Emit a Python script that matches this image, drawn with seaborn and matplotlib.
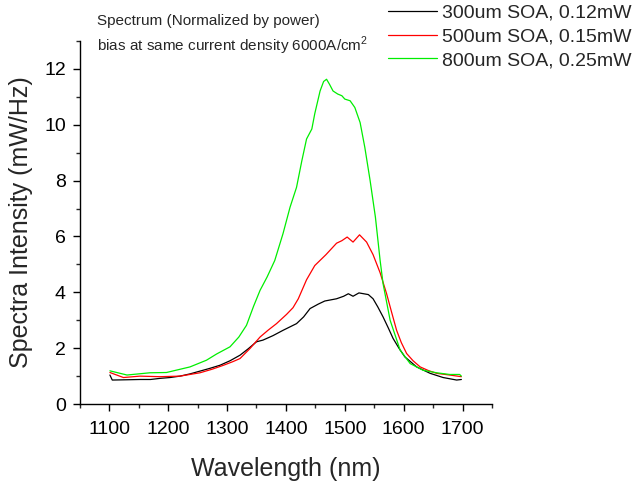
import matplotlib
matplotlib.use("Agg")
import matplotlib.pyplot as plt
import seaborn as sns
import pandas as pd
from matplotlib.ticker import MultipleLocator

# ---- data ----
wl_300 = [1101, 1105, 1130, 1152, 1170, 1186, 1203, 1220, 1237, 1254, 1271, 1288, 1305, 1322,
          1336, 1350, 1361, 1378, 1395, 1418, 1430, 1441, 1455, 1466, 1486, 1498, 1506, 1514,
          1524, 1540, 1548, 1556, 1565, 1574, 1582, 1592, 1602, 1622, 1645, 1667, 1690, 1698]
int_300 = [1.04, 0.86, 0.87, 0.88, 0.88, 0.92, 0.95, 1.00, 1.08, 1.18, 1.28, 1.39, 1.55, 1.75,
           1.98, 2.23, 2.29, 2.45, 2.64, 2.88, 3.12, 3.42, 3.58, 3.69, 3.77, 3.86, 3.95, 3.86,
           3.98, 3.92, 3.77, 3.48, 3.12, 2.72, 2.35, 2.00, 1.69, 1.33, 1.10, 0.95, 0.86, 0.88]

wl_500 = [1101, 1124, 1152, 1186, 1220, 1254, 1275, 1294, 1310, 1322, 1339, 1356, 1370, 1384,
          1401, 1412, 1421, 1435, 1449, 1468, 1486, 1495, 1504, 1514, 1525, 1537, 1548, 1560,
          1571, 1580, 1588, 1596, 1605, 1616, 1628, 1642, 1656, 1678, 1698]
int_500 = [1.13, 0.95, 1.00, 0.98, 1.00, 1.12, 1.25, 1.39, 1.52, 1.63, 1.99, 2.40, 2.65, 2.88,
           3.21, 3.45, 3.77, 4.45, 4.96, 5.35, 5.76, 5.85, 5.98, 5.80, 6.06, 5.80, 5.35, 4.70,
           3.95, 3.25, 2.64, 2.20, 1.81, 1.55, 1.33, 1.20, 1.10, 1.04, 0.98]

wl_800 = [1101, 1130, 1169, 1197, 1237, 1265, 1282, 1305, 1320, 1333, 1345, 1356, 1368, 1381,
          1395, 1407, 1418, 1427, 1435, 1444, 1449, 1458, 1464, 1469, 1474, 1480, 1488, 1495,
          1500, 1509, 1517, 1526, 1534, 1543, 1552, 1560, 1565, 1577, 1594, 1611, 1633, 1656,
          1678, 1695, 1698]
int_800 = [1.19, 1.04, 1.12, 1.13, 1.33, 1.57, 1.79, 2.05, 2.40, 2.82, 3.50, 4.07, 4.55, 5.14,
           6.10, 7.05, 7.76, 8.71, 9.49, 9.85, 10.40, 11.21, 11.55, 11.63, 11.45, 11.21, 11.10, 11.04,
           10.92, 10.86, 10.62, 10.08, 9.19, 8.00, 6.69, 5.14, 4.31, 3.00, 1.93, 1.45, 1.21, 1.12,
           1.06, 1.06, 1.00]

labels = ["300um SOA, 0.12mW", "500um SOA, 0.15mW", "800um SOA, 0.25mW"]
colors = ["#000000", "#ff0000", "#00ee00"]

sns.set_style("ticks")
plt.rcParams['font.family'] = ['Liberation Sans', 'DejaVu Sans']
plt.rcParams['mathtext.fontset'] = 'custom'
plt.rcParams['mathtext.rm'] = 'Liberation Sans'

fig = plt.figure(figsize=(6.34, 4.88), dpi=100)
ax = fig.add_axes([0.126, 0.172, 0.650, 0.744])

for wl, val, lab, col in zip([wl_300, wl_500, wl_800], [int_300, int_500, int_800], labels, colors):
    df = pd.DataFrame({"wl": wl, "v": val})
    sns.lineplot(data=df, x="wl", y="v", ax=ax, color=col, linewidth=0.9, label=lab)

ax.set_xlim(1050, 1750)
ax.set_ylim(0, 13)
ax.xaxis.set_major_locator(MultipleLocator(100))
ax.xaxis.set_minor_locator(MultipleLocator(50))
ax.yaxis.set_major_locator(MultipleLocator(2))
ax.yaxis.set_minor_locator(MultipleLocator(1))
ax.tick_params(which='major', direction='out', length=5, width=1, labelsize=14,
               colors='black', pad=5)
ax.tick_params(axis='x', which='major', pad=7)
ax.tick_params(which='minor', direction='out', length=3, width=1)
for s in ['top', 'right']:
    ax.spines[s].set_visible(False)
for s in ['left', 'bottom']:
    ax.spines[s].set_linewidth(1)
    ax.spines[s].set_color('black')

ax.set_xlabel("Wavelength (nm)", fontsize=18, labelpad=14)
ax.set_ylabel("Spectra Intensity (mW/Hz)", fontsize=18, labelpad=8)

fig.text(97/634, 1-21/488, "Spectrum (Normalized by power)", fontsize=11, va='center', ha='left')
fig.text(97/634, 1-46/488, r"bias at same current density 6000A/cm$^{\mathrm{2}}$", fontsize=11,
         va='center', ha='left')

ax.legend_.remove()
handles, labs = ax.get_legend_handles_labels()
fig.legend(handles, labs, loc='upper left', bbox_to_anchor=(388/634, 1-4/488), frameon=False,
           fontsize=14, handlelength=2.5, handletextpad=0.3, labelspacing=0.32,
           borderaxespad=0.0, borderpad=0.0)

fig.savefig("out.png", dpi=100)
